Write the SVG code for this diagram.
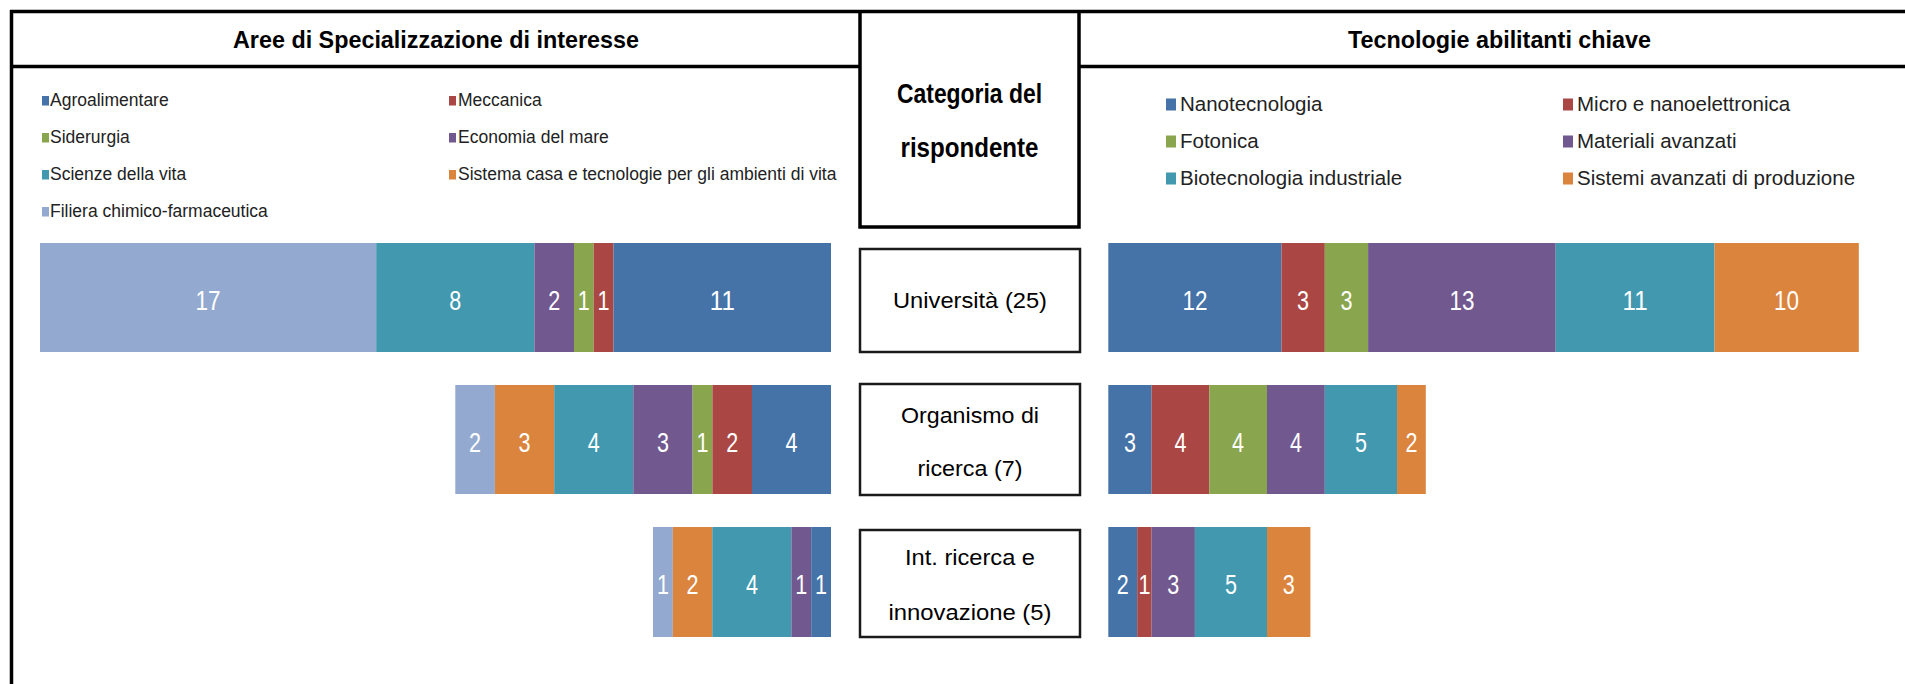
<svg xmlns="http://www.w3.org/2000/svg" width="1905" height="684" viewBox="0 0 1905 684">
<style>
text{font-family:"Liberation Sans",Arial,sans-serif}
.frame{fill:none;stroke:#000;stroke-width:3.5}
.box{fill:#fff;stroke:#1a1a1a;stroke-width:2.5}
.hdr{font-weight:bold;font-size:24px;fill:#000;text-anchor:middle}
.cath{font-weight:bold;font-size:27px;fill:#000;text-anchor:middle}
.lgL{font-size:17.5px;fill:#222}
.lgR{font-size:20.5px;fill:#222}
.cat{font-size:22px;fill:#000;text-anchor:middle}
.val{font-size:28px;fill:#fff;text-anchor:middle}
.agro{fill:#4572A7}.mecc{fill:#AA4643}.side{fill:#89A54E}.econ{fill:#71588F}.scie{fill:#4198AF}.casa{fill:#DB843D}.fili{fill:#93A9CF}
</style>

<g id="frame">
<path class="frame" d="M10 11.5H1905M11.5 10V684M10 66.5H860M1079 66.5H1905"/>
</g>

<g id="header-aree">
<text class="hdr" x="436" y="48" textLength="406" lengthAdjust="spacingAndGlyphs">Aree di Specializzazione di interesse</text>
</g>
<g id="header-tecnologie">
<text class="hdr" x="1499.5" y="48" textLength="303" lengthAdjust="spacingAndGlyphs">Tecnologie abilitanti chiave</text>
</g>
<g id="categoria">
<path class="frame" d="M860 11.5V227H1079V11.5"/>
<text class="cath" x="969.5" y="103" textLength="145" lengthAdjust="spacingAndGlyphs">Categoria del</text>
<text class="cath" x="969.5" y="157" textLength="138" lengthAdjust="spacingAndGlyphs">rispondente</text>
</g>

<g id="legend-aree">
<rect class="agro" x="42" y="96" width="7" height="9.5"/><text class="lgL" x="50" y="105.5">Agroalimentare</text>
<rect class="side" x="42" y="133" width="7" height="9.5"/><text class="lgL" x="50" y="142.5">Siderurgia</text>
<rect class="scie" x="42" y="170" width="7" height="9.5"/><text class="lgL" x="50" y="179.5">Scienze della vita</text>
<rect class="fili" x="42" y="207" width="7" height="9.5"/><text class="lgL" x="50" y="216.5">Filiera chimico-farmaceutica</text>
<rect class="mecc" x="449" y="96" width="7" height="9.5"/><text class="lgL" x="458" y="105.5">Meccanica</text>
<rect class="econ" x="449" y="133" width="7" height="9.5"/><text class="lgL" x="458" y="142.5">Economia del mare</text>
<rect class="casa" x="449" y="170" width="7" height="9.5"/><text class="lgL" x="458" y="179.5">Sistema casa e tecnologie per gli ambienti di vita</text>
</g>

<g id="legend-tecnologie">
<rect class="agro" x="1166" y="98.5" width="10" height="12"/><text class="lgR" x="1180" y="110.5">Nanotecnologia</text>
<rect class="side" x="1166" y="135.5" width="10" height="12"/><text class="lgR" x="1180" y="147.5">Fotonica</text>
<rect class="scie" x="1166" y="172.5" width="10" height="12"/><text class="lgR" x="1180" y="184.5">Biotecnologia industriale</text>
<rect class="mecc" x="1563" y="98.5" width="10" height="12"/><text class="lgR" x="1577" y="110.5">Micro e nanoelettronica</text>
<rect class="econ" x="1563" y="135.5" width="10" height="12"/><text class="lgR" x="1577" y="147.5">Materiali avanzati</text>
<rect class="casa" x="1563" y="172.5" width="10" height="12"/><text class="lgR" x="1577" y="184.5">Sistemi avanzati di produzione</text>
</g>

<g id="universita">
<rect class="box" x="860" y="249" width="220" height="103"/>
<text class="cat" x="970" y="308" textLength="154" lengthAdjust="spacingAndGlyphs">Università (25)</text>
</g>
<g id="organismo">
<rect class="box" x="860" y="384" width="220" height="111"/>
<text class="cat" x="970" y="423" textLength="138" lengthAdjust="spacingAndGlyphs">Organismo di</text>
<text class="cat" x="970" y="476" textLength="105" lengthAdjust="spacingAndGlyphs">ricerca (7)</text>
</g>
<g id="intermediari">
<rect class="box" x="860" y="530" width="220" height="107"/>
<text class="cat" x="970" y="565" textLength="130" lengthAdjust="spacingAndGlyphs">Int. ricerca e</text>
<text class="cat" x="970" y="620" textLength="163" lengthAdjust="spacingAndGlyphs">innovazione (5)</text>
</g>

<g id="bar-aree-universita">
<rect class="fili" x="40" y="243" width="336.2" height="109"/>
<rect class="scie" x="376.2" y="243" width="158.2" height="109"/>
<rect class="econ" x="534.4" y="243" width="39.6" height="109"/>
<rect class="side" x="574" y="243" width="19.7" height="109"/>
<rect class="mecc" x="593.7" y="243" width="19.8" height="109"/>
<rect class="agro" x="613.5" y="243" width="217.5" height="109"/>
<text class="val" x="208.1" y="310" textLength="25" lengthAdjust="spacingAndGlyphs">17</text>
<text class="val" x="455.3" y="310" textLength="12" lengthAdjust="spacingAndGlyphs">8</text>
<text class="val" x="554.2" y="310" textLength="12" lengthAdjust="spacingAndGlyphs">2</text>
<text class="val" x="583.8" y="310" textLength="12" lengthAdjust="spacingAndGlyphs">1</text>
<text class="val" x="603.6" y="310" textLength="12" lengthAdjust="spacingAndGlyphs">1</text>
<text class="val" x="722.3" y="310" textLength="25" lengthAdjust="spacingAndGlyphs">11</text>
</g>
<g id="bar-aree-organismo">
<rect class="fili" x="455.3" y="385" width="39.6" height="109"/>
<rect class="casa" x="494.9" y="385" width="59.3" height="109"/>
<rect class="scie" x="554.2" y="385" width="79.1" height="109"/>
<rect class="econ" x="633.3" y="385" width="59.3" height="109"/>
<rect class="side" x="692.6" y="385" width="19.8" height="109"/>
<rect class="mecc" x="712.4" y="385" width="39.6" height="109"/>
<rect class="agro" x="752" y="385" width="79" height="109"/>
<text class="val" x="475.1" y="452" textLength="12" lengthAdjust="spacingAndGlyphs">2</text>
<text class="val" x="524.5" y="452" textLength="12" lengthAdjust="spacingAndGlyphs">3</text>
<text class="val" x="593.7" y="452" textLength="12" lengthAdjust="spacingAndGlyphs">4</text>
<text class="val" x="663" y="452" textLength="12" lengthAdjust="spacingAndGlyphs">3</text>
<text class="val" x="702.5" y="452" textLength="12" lengthAdjust="spacingAndGlyphs">1</text>
<text class="val" x="732.2" y="452" textLength="12" lengthAdjust="spacingAndGlyphs">2</text>
<text class="val" x="791.5" y="452" textLength="12" lengthAdjust="spacingAndGlyphs">4</text>
</g>
<g id="bar-aree-intermediari">
<rect class="fili" x="653" y="527" width="19.8" height="110"/>
<rect class="casa" x="672.8" y="527" width="39.5" height="110"/>
<rect class="scie" x="712.3" y="527" width="79.1" height="110"/>
<rect class="econ" x="791.4" y="527" width="19.8" height="110"/>
<rect class="agro" x="811.2" y="527" width="19.8" height="110"/>
<text class="val" x="662.9" y="594" textLength="12" lengthAdjust="spacingAndGlyphs">1</text>
<text class="val" x="692.6" y="594" textLength="12" lengthAdjust="spacingAndGlyphs">2</text>
<text class="val" x="751.9" y="594" textLength="12" lengthAdjust="spacingAndGlyphs">4</text>
<text class="val" x="801.3" y="594" textLength="12" lengthAdjust="spacingAndGlyphs">1</text>
<text class="val" x="821.1" y="594" textLength="12" lengthAdjust="spacingAndGlyphs">1</text>
</g>

<g id="bar-tec-universita">
<rect class="agro" x="1108.3" y="243" width="173.2" height="109"/>
<rect class="mecc" x="1281.5" y="243" width="43.3" height="109"/>
<rect class="side" x="1324.8" y="243" width="43.3" height="109"/>
<rect class="econ" x="1368.1" y="243" width="187.6" height="109"/>
<rect class="scie" x="1555.7" y="243" width="158.8" height="109"/>
<rect class="casa" x="1714.5" y="243" width="144.3" height="109"/>
<text class="val" x="1194.9" y="310" textLength="25" lengthAdjust="spacingAndGlyphs">12</text>
<text class="val" x="1303.1" y="310" textLength="12" lengthAdjust="spacingAndGlyphs">3</text>
<text class="val" x="1346.4" y="310" textLength="12" lengthAdjust="spacingAndGlyphs">3</text>
<text class="val" x="1461.9" y="310" textLength="25" lengthAdjust="spacingAndGlyphs">13</text>
<text class="val" x="1635.1" y="310" textLength="25" lengthAdjust="spacingAndGlyphs">11</text>
<text class="val" x="1786.6" y="310" textLength="25" lengthAdjust="spacingAndGlyphs">10</text>
</g>
<g id="bar-tec-organismo">
<rect class="agro" x="1108.3" y="385" width="43.3" height="109"/>
<rect class="mecc" x="1151.6" y="385" width="57.7" height="109"/>
<rect class="side" x="1209.3" y="385" width="57.7" height="109"/>
<rect class="econ" x="1267" y="385" width="57.8" height="109"/>
<rect class="scie" x="1324.8" y="385" width="72.2" height="109"/>
<rect class="casa" x="1397" y="385" width="28.8" height="109"/>
<text class="val" x="1129.9" y="452" textLength="12" lengthAdjust="spacingAndGlyphs">3</text>
<text class="val" x="1180.4" y="452" textLength="12" lengthAdjust="spacingAndGlyphs">4</text>
<text class="val" x="1238.1" y="452" textLength="12" lengthAdjust="spacingAndGlyphs">4</text>
<text class="val" x="1295.9" y="452" textLength="12" lengthAdjust="spacingAndGlyphs">4</text>
<text class="val" x="1360.9" y="452" textLength="12" lengthAdjust="spacingAndGlyphs">5</text>
<text class="val" x="1411.4" y="452" textLength="12" lengthAdjust="spacingAndGlyphs">2</text>
</g>
<g id="bar-tec-intermediari">
<rect class="agro" x="1108.3" y="527" width="28.9" height="110"/>
<rect class="mecc" x="1137.2" y="527" width="14.4" height="110"/>
<rect class="econ" x="1151.6" y="527" width="43.3" height="110"/>
<rect class="scie" x="1194.9" y="527" width="72.1" height="110"/>
<rect class="casa" x="1267" y="527" width="43.4" height="110"/>
<text class="val" x="1122.7" y="594" textLength="12" lengthAdjust="spacingAndGlyphs">2</text>
<text class="val" x="1144.4" y="594" textLength="12" lengthAdjust="spacingAndGlyphs">1</text>
<text class="val" x="1173.2" y="594" textLength="12" lengthAdjust="spacingAndGlyphs">3</text>
<text class="val" x="1231" y="594" textLength="12" lengthAdjust="spacingAndGlyphs">5</text>
<text class="val" x="1288.7" y="594" textLength="12" lengthAdjust="spacingAndGlyphs">3</text>
</g>
</svg>
